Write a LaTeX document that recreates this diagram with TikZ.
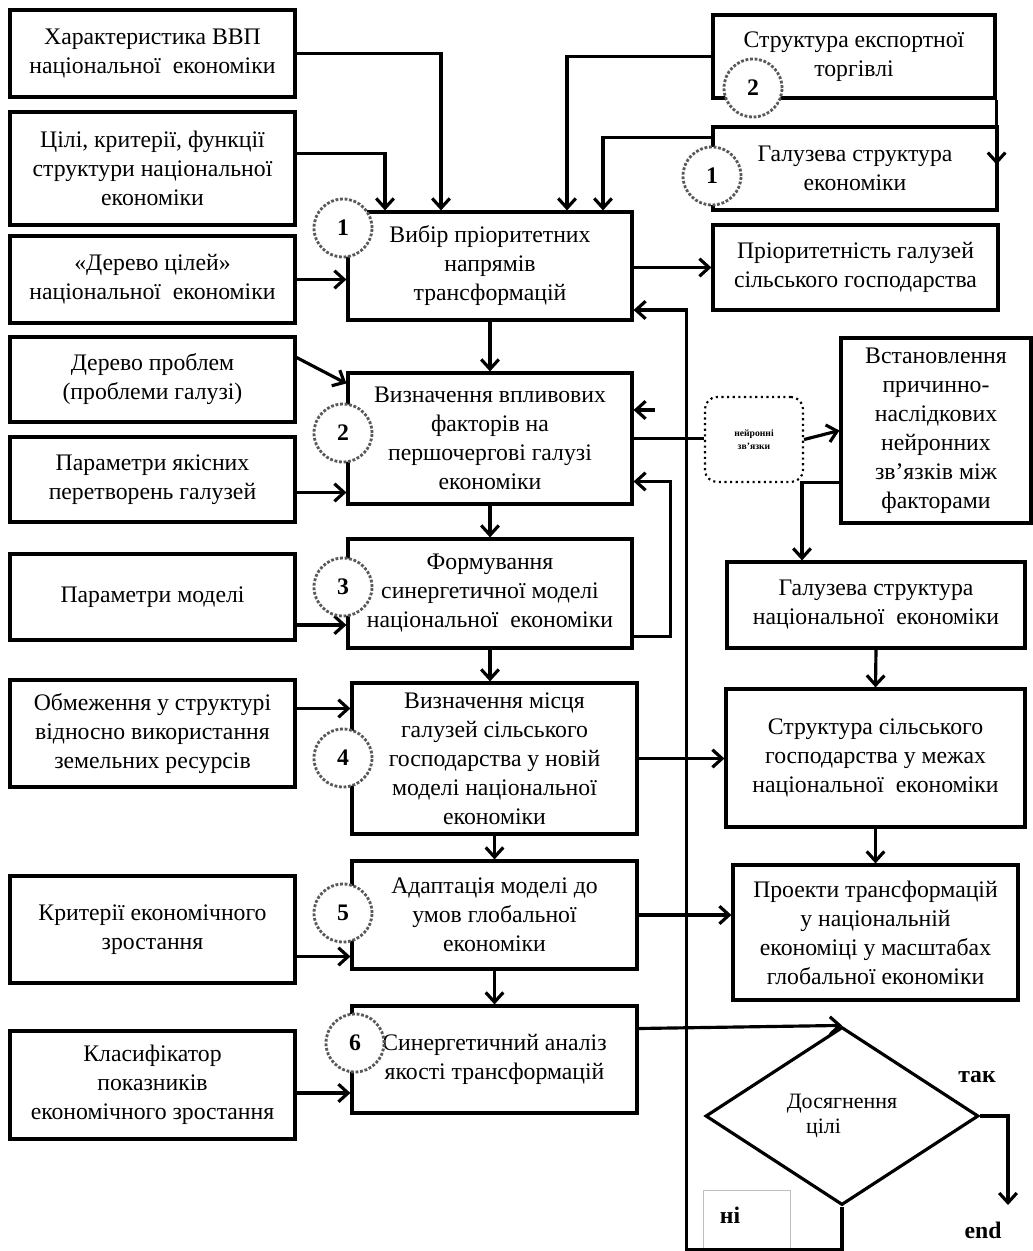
\documentclass[tikz,border=0pt]{standalone}
\usepackage{fontspec}
\setmainfont{Liberation Serif}
\usetikzlibrary{calc,shapes.geometric,arrows.meta}

\newlength{\upx}
\setlength{\upx}{0.02cm}

\tikzset{
  box/.style={draw, line width=1.8pt, align=center, inner sep=1pt,
    font=\fontsize{13.5}{16.5}\selectfont},
  sidebox/.style={box, minimum width=285\upx},
  numcirc/.style={circle, draw=black!65, densely dotted, line width=1.6pt,
    fill=white, minimum size=58\upx, inner sep=0pt,
    font=\fontsize{13.5}{14}\selectfont\bfseries},
  conn/.style={->, line width=1.8pt},
  answer/.style={font=\fontsize{13.5}{14}\selectfont\bfseries}
}

\begin{document}
\begin{tikzpicture}[x=0.02cm, y=-0.02cm, >={Straight Barb[length=5.5pt,width=10pt]}]
\useasboundingbox (0,0) rectangle (1033,1251);

    % Inputs on the left
    \node[sidebox, minimum height=87\upx] (L1) at (152.5,53.5) {Характеристика ВВП\\національної~ економіки};
    \node[sidebox, minimum height=113\upx] (L2) at (152.5,168.5) {Цілі, критерії, функції\\структури національної\\економіки};
    \node[sidebox, minimum height=87\upx] (L3) at (152.5,279.5) {«Дерево цілей»\\національної~ економіки};
    \node[sidebox, minimum height=85\upx] (L4) at (152.5,379.5) {Дерево проблем\\(проблеми галузі)};
    \node[sidebox, minimum height=85\upx] (L5) at (152.5,479.5) {Параметри якісних\\перетворень галузей};
    \node[sidebox, minimum height=86\upx] (L6) at (152.5,597) {Параметри моделі};
    \node[sidebox, minimum height=107\upx] (L7) at (152.5,733.5) {Обмеження у структурі\\відносно використання\\земельних ресурсів};
    \node[sidebox, minimum height=107\upx] (L8) at (152.5,929.5) {Критерії економічного\\зростання};
    \node[sidebox, minimum height=108\upx] (L9) at (152.5,1085) {Класифікатор\\показників\\економічного зростання};

    % Main stages
    \node[box, minimum width=284\upx, minimum height=108\upx] (C1) at (490,266) {Вибір пріоритетних\\напрямів\\трансформацій};
    \node[box, minimum width=284\upx, minimum height=131\upx] (C2) at (490,438.5) {Визначення впливових\\факторів на\\першочергові галузі\\економіки};
    \node[box, minimum width=284\upx, minimum height=109\upx] (C3) at (490,593.5) {Формування\\синергетичної моделі\\національної~ економіки};
    \node[box, minimum width=285\upx, minimum height=151\upx] (C4) at (494.5,758.5) {Визначення місця\\галузей сільського\\господарства у новій\\моделі національної\\економіки};
    \node[box, minimum width=285\upx, minimum height=108\upx] (C5) at (494.5,915) {Адаптація моделі до\\умов глобальної\\економіки};
    \node[box, minimum width=285\upx, minimum height=107\upx] (C6) at (494.5,1059.5) {Синергетичний аналіз\\якості трансформацій};

    % Right column
    \node[box, minimum width=282\upx, minimum height=83\upx] (R1) at (854,56.5) {Структура експортної\\торгівлі};
    \node[box, minimum width=284\upx, minimum height=83\upx] (R2) at (855,168.5) {Галузева структура\\економіки};
    \node[box, minimum width=285\upx, minimum height=85\upx] (R3) at (855.5,267.5) {Пріоритетність галузей\\сільського господарства};
    \node[draw, dotted, line width=1.2pt, rounded corners=12\upx, minimum width=98\upx, minimum height=85\upx,
      align=center, font=\fontsize{5.5}{7.5}\selectfont\bfseries] (NB) at (754,439.5) {нейронні\\зв’язки};
    \node[box, minimum width=190\upx, minimum height=185\upx] (N) at (936,430.5) {Встановлення\\причинно-\\наслідкових\\нейронних\\зв’язків між\\факторами};
    \node[box, minimum width=298\upx, minimum height=86\upx] (G) at (876,605) {Галузева структура\\національної~ економіки};
    \node[box, minimum width=299\upx, minimum height=138\upx] (S) at (875.5,758) {Структура сільського\\господарства у межах\\національної~ економіки};
    \node[box, minimum width=285\upx, minimum height=135\upx] (P) at (875.5,932.5) {Проекти трансформацій\\у національній\\економіці у масштабах\\глобальної економіки};

    % Decision
    \node[diamond, draw, line width=1.8pt, minimum width=273\upx, minimum height=178\upx, inner sep=0pt,
      align=left, font=\fontsize{12.5}{14}\selectfont] (goal) at (842,1116) {Досягнення\\\hspace*{11pt}цілі};
    \node[answer] (yes) at (977,1077) {так};
    \node[answer] (endlbl) at (983,1230) {end};
    \node[draw=gray!50, line width=0.4pt, minimum width=87\upx, minimum height=70\upx] (nobox) at (746.5,1225) {};
    \node[answer] (no) at (730,1215) {ні};

    % Inputs into stage 1
    \draw[conn] (L1.east) -| ($(C1.north)+(-49,0)$);
    \draw[conn] ($(L2.east)+(0,-15)$) -| ($(C1.north)+(-105,0)$);
    \draw[conn] (R1.west) -| ($(C1.north)+(77,0)$);
    \draw[conn] ($(R2.west)+(0,-31)$) -| ($(C1.north)+(113,0)$);
    \draw[conn] (R1.south east) -- ++(0,65);
    \draw[conn] ($(L4.east)+(0,-22)$) -- ($(C2.west)+(0,-55)$);
    \foreach \a/\b/\dy in {L3/C1/0, L5/C2/13, L6/C3/28, L7/C4/-25, L8/C5/27, L9/C6/8}
    \draw[conn] ($(\a.east)+(0,\dy)$) coordinate (s) -- (s -| \b.west);

    % Stage to stage
    \foreach \a/\b in {C1/C2, C2/C3, C3/C4, C4/C5, C5/C6}
    \draw[conn] (\a.south) -- (\a.south |- \b.north);

    % Outputs to the right
    \draw[conn] (C1.east |- R3.west) -- (R3.west);
    \draw[line width=1.8pt] (C2.east) -- (C2.east -| NB.west);
    \draw[conn] (NB.east) -- (N.west);
    \coordinate (stub) at (655,410);
    \draw[conn] (stub) -- (stub -| C2.east);
    \draw[conn] ($(C3.east)+(0,43)$) -- ++(37,0) |- ($(C2.east)+(0,43)$);
    \draw[conn] ($(N.west)+(0,52)$) -| ($(G.north)+(-74,0)$);
    \draw[conn] (G.south) -- (S.north);
    \draw[conn] (S.south) -- (P.north);
    \draw[conn] (C4.east) -- (C4.east -| S.west);
    \draw[conn] (C5.east) -- (C5.east -| P.west);
    \draw[conn] ($(C6.east)+(0,-31)$) -- (goal.north);

    % Loop back and exit
    \draw[conn] (goal.south) -- ++(0,43) -| ($(C1.east)+(53,44)$) -- ($(C1.east)+(0,44)$);
    \coordinate (yesend) at (1008,1205);
    \draw[conn] (goal.east) -| (yesend);

    % Step numbers
    \foreach \n/\x/\y in {1/343/228, 2/343/433, 3/343/587, 4/343/758, 5/343/913, 6/355/1043}
    \node[numcirc] (step\n) at (\x,\y) {\n};
    \node[numcirc] (exportnum) at (753,88) {2};
    \node[numcirc] (branchnum) at (712,176) {1};

\end{tikzpicture}
\end{document}
